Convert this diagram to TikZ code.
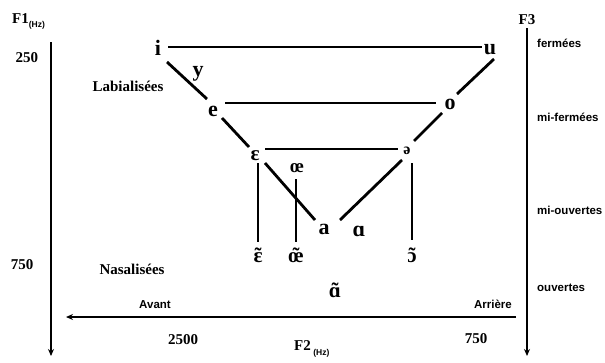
\documentclass[tikz,border=0pt]{standalone}
\usepackage{fontspec}
\setmainfont{Liberation Serif}
\setsansfont{Liberation Sans}
\usetikzlibrary{arrows.meta}
\newcommand{\nasv}[1]{\accent"02DC #1}
\newcommand{\hzsub}{{\sffamily\bfseries\fontsize{8.5}{8.5}\selectfont(Hz)}}
\begin{document}
\begin{tikzpicture}[x=1pt,y=-1pt,
  vow/.style={font=\bfseries\fontsize{22}{22}\selectfont, inner sep=0pt},
  ipa/.style={font=\bfseries\fontsize{21}{21}\selectfont, inner sep=0pt},
  lab/.style={font=\bfseries\fontsize{15}{15}\selectfont, inner sep=0pt},
  axl/.style={font=\bfseries\fontsize{15}{15}\selectfont, inner sep=0pt},
  sans/.style={font=\sffamily\bfseries\fontsize{11.5}{11.5}\selectfont, inner sep=0pt},
  ln/.style={line width=2.8pt},
  ax/.style={line width=2.4pt, -{Stealth[length=7pt,width=6pt]}}]
\useasboundingbox (0,0) rectangle (605,362);
% axes
\coordinate (f1top) at (51,42); \coordinate (f1bot) at (51,356);
\draw[ax] (f1top) -- (f1bot);
\coordinate (f3top) at (527,28); \coordinate (f3bot) at (527,356);
\draw[ax] (f3top) -- (f3bot);
\coordinate (f2r) at (516,317); \coordinate (f2l) at (66,317);
\draw[ax] (f2r) -- (f2l);
\node[axl, anchor=west] (F1) at (12,21) {F1\raisebox{-4pt}{\hzsub}};
\node[axl] (F3) at (527,20) {F3};
\node[axl, anchor=west] (F2) at (294,349) {F2\raisebox{-5pt}{\,\hzsub}};
\node[lab] (n250) at (27,58) {250};
\node[lab] (n750a) at (22,265) {750};
\node[lab] (n2500) at (183,340) {2500};
\node[lab] (n750b) at (476,339) {750};
\node[lab] (labi) at (128,86) {Labialisées};
\node[lab] (nasa) at (132,269) {Nasalisées};
\node[sans] (avant) at (155,305) {Avant};
\node[sans] (arr) at (493,304) {Arrière};
\node[sans, anchor=west] (ferm) at (537,43) {fermées};
\node[sans, anchor=west] (mif) at (537,117) {mi-fermées};
\node[sans, anchor=west] (mio) at (537,210) {mi-ouvertes};
\node[sans, anchor=west] (ouv) at (537,288) {ouvertes};
% vowels
\node[vow] (i) at (158,48) {i};
\node[vow] (u) at (490,50) {u};
\node[vow] (y) at (198,74) {y};
\node[vow] (e) at (213,111) {e};
\node[vow] (o) at (450,104) {o};
\node[ipa] (eps) at (255,156) {ɛ};
\node[ipa, font=\bfseries\fontsize{16}{16}\selectfont] (schwa) at (407,151) {ə};
\node[ipa, font=\bfseries\fontsize{19}{19}\selectfont] (oe) at (297,168) {œ};
\node[vow] (a) at (324,229) {a};
\node[vow] (alpha) at (359,231) {ɑ};
\node[ipa] (epsn) at (258,255) {\nasv{ɛ}};
\node[ipa] (oen) at (296,255) {\nasv{œ}};
\node[ipa] (on) at (412,255) {\nasv{ɔ}};
\node[ipa] (an) at (335,290) {\nasv{ɑ}};
% lines
\coordinate (i1) at (168,47); \coordinate (u1) at (482,47);
\draw[ln] (i1) -- (u1);
\coordinate (i2) at (167,62); \coordinate (e1) at (207,99);
\draw[ln] (i2) -- (e1);
\coordinate (e2) at (225,103); \coordinate (o1) at (436,103);
\draw[ln] (e2) -- (o1);
\coordinate (u2) at (494,59); \coordinate (o2) at (457,94);
\draw[ln] (u2) -- (o2);
\coordinate (e3) at (222,118); \coordinate (eps1) at (249,147);
\draw[ln] (e3) -- (eps1);
\coordinate (eps2) at (265,149); \coordinate (sch1) at (398,149);
\draw[ln] (eps2) -- (sch1);
\coordinate (o3) at (442,113); \coordinate (sch2) at (414,141);
\draw[ln] (o3) -- (sch2);
\coordinate (eps3) at (258,163); \coordinate (epsn1) at (258,242);
\draw[ln] (eps3) -- (epsn1);
\coordinate (oe1) at (296,179); \coordinate (oen1) at (296,242);
\draw[ln] (oe1) -- (oen1);
\coordinate (eps4) at (265,163); \coordinate (a1) at (315,220);
\draw[ln] (eps4) -- (a1);
\coordinate (a2) at (340,220); \coordinate (sch3) at (402,160);
\draw[ln] (a2) -- (sch3);
\coordinate (sch4) at (412,163); \coordinate (on1) at (412,240);
\draw[ln] (sch4) -- (on1);
\end{tikzpicture}
\end{document}
